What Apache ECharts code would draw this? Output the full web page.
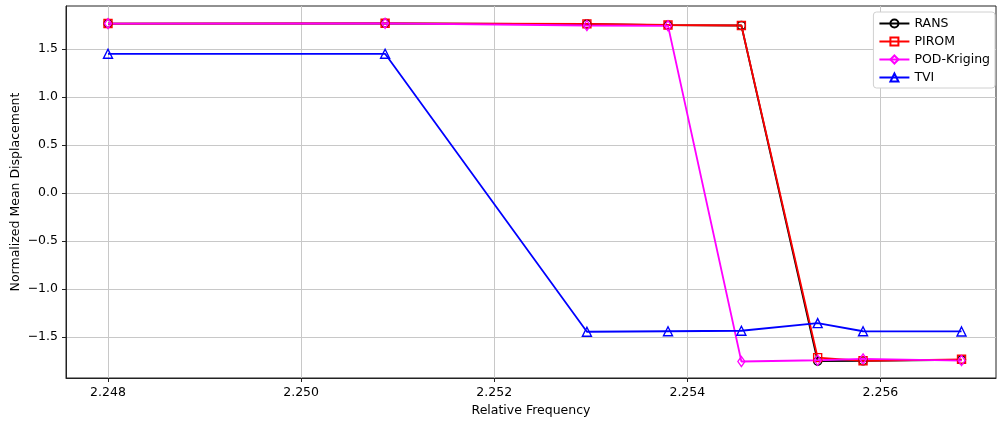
<!DOCTYPE html>
<html>
<head>
<meta charset="utf-8">
<title>Normalized Mean Displacement</title>
<script src="https://cdn.jsdelivr.net/npm/echarts@6/dist/echarts.min.js"></script>
<style>
  html, body { margin: 0; padding: 0; background: #fff; }
  #chart { width: 997px; height: 422px; }
</style>
</head>
<body>
<div id="chart"></div>
<script>
// relative frequency samples
const freq = [2.248, 2.25087, 2.25296, 2.2538, 2.25456, 2.25535, 2.25582, 2.25684];

const rans = [1.765, 1.768, 1.760, 1.748, 1.745, -1.752, -1.748, -1.738];
const pirom = [1.765, 1.768, 1.762, 1.750, 1.745, -1.715, -1.748, -1.732];
const podKriging = [1.765, 1.768, 1.745, 1.742, -1.755, -1.742, -1.728, -1.745];
const tvi = [1.450, 1.450, -1.445, -1.440, -1.435, -1.355, -1.440, -1.442];

const xTicks = [2.248, 2.250, 2.252, 2.254, 2.256];
const yTicks = [-1.5, -1.0, -0.5, 0.0, 0.5, 1.0, 1.5];

const font = 'DejaVu Sans';

function pairs(ys) {
  return freq.map((f, i) => [f, ys[i]]);
}

function makeSeries(name, ys, color, symbol, size) {
  return {
    name: name,
    type: 'line',
    data: pairs(ys),
    symbol: symbol,
    symbolSize: size,
    showAllSymbol: true,
    lineStyle: { color: color, width: 1.8 },
    itemStyle: { color: 'transparent', borderColor: color, borderWidth: 1.4 },
    emphasis: { disabled: true },
    animation: false
  };
}

const chart = echarts.init(document.getElementById('chart'));

chart.setOption({
  animation: false,
  grid: {
    left: 66, right: 1, top: 6, bottom: 44,
    outerBoundsMode: 'none',
    containLabel: false,
    show: true, borderColor: '#222', borderWidth: 1
  },
  legend: {
    orient: 'vertical',
    right: 2, top: 12,
    backgroundColor: '#fff',
    borderColor: '#d0d0d0',
    borderWidth: 1,
    borderRadius: 3,
    padding: [5, 5, 4, 5],
    itemWidth: 30, itemHeight: 10, itemGap: 5,
    textStyle: { fontFamily: font, fontSize: 12.5, color: '#000' },
    data: ['RANS', 'PIROM', 'POD-Kriging', 'TVI']
  },
  xAxis: {
    type: 'value',
    min: 2.247565,
    max: 2.257197,
    name: 'Relative Frequency',
    nameLocation: 'middle',
    nameGap: 26,
    nameMoveOverlap: false,
    nameTextStyle: { fontFamily: font, fontSize: 12.5, color: '#000' },
    axisLine: { onZero: false, lineStyle: { color: '#222', width: 1 } },
    axisTick: { show: true, length: 4, lineStyle: { color: '#222' }, customValues: xTicks },
    axisLabel: {
      fontFamily: font, fontSize: 12.5, color: '#000', margin: 8,
      customValues: xTicks,
      formatter: v => v.toFixed(3)
    },
    splitLine: { show: true, lineStyle: { color: '#c8c8c8', width: 1 } }
  },
  yAxis: {
    type: 'value',
    min: -1.927,
    max: 1.948,
    name: 'Normalized Mean Displacement',
    nameLocation: 'middle',
    nameGap: 44,
    nameMoveOverlap: false,
    nameTextStyle: { fontFamily: font, fontSize: 12.5, color: '#000' },
    axisLine: { show: true, onZero: false, lineStyle: { color: '#222', width: 1 } },
    axisTick: { show: true, length: 4, lineStyle: { color: '#222' }, customValues: yTicks },
    axisLabel: {
      fontFamily: font, fontSize: 12.5, color: '#000', margin: 8,
      customValues: yTicks,
      formatter: v => v.toFixed(1).replace('-', '\u2212')
    },
    splitLine: { show: true, lineStyle: { color: '#c8c8c8', width: 1 } }
  },
  series: [
    makeSeries('RANS', rans, '#000000', 'circle', 8),
    makeSeries('PIROM', pirom, '#ff0000', 'rect', 8),
    makeSeries('POD-Kriging', podKriging, '#ff00ff', 'diamond', [7, 10]),
    makeSeries('TVI', tvi, '#0000ff', 'triangle', 9)
  ]
});
</script>
</body>
</html>
